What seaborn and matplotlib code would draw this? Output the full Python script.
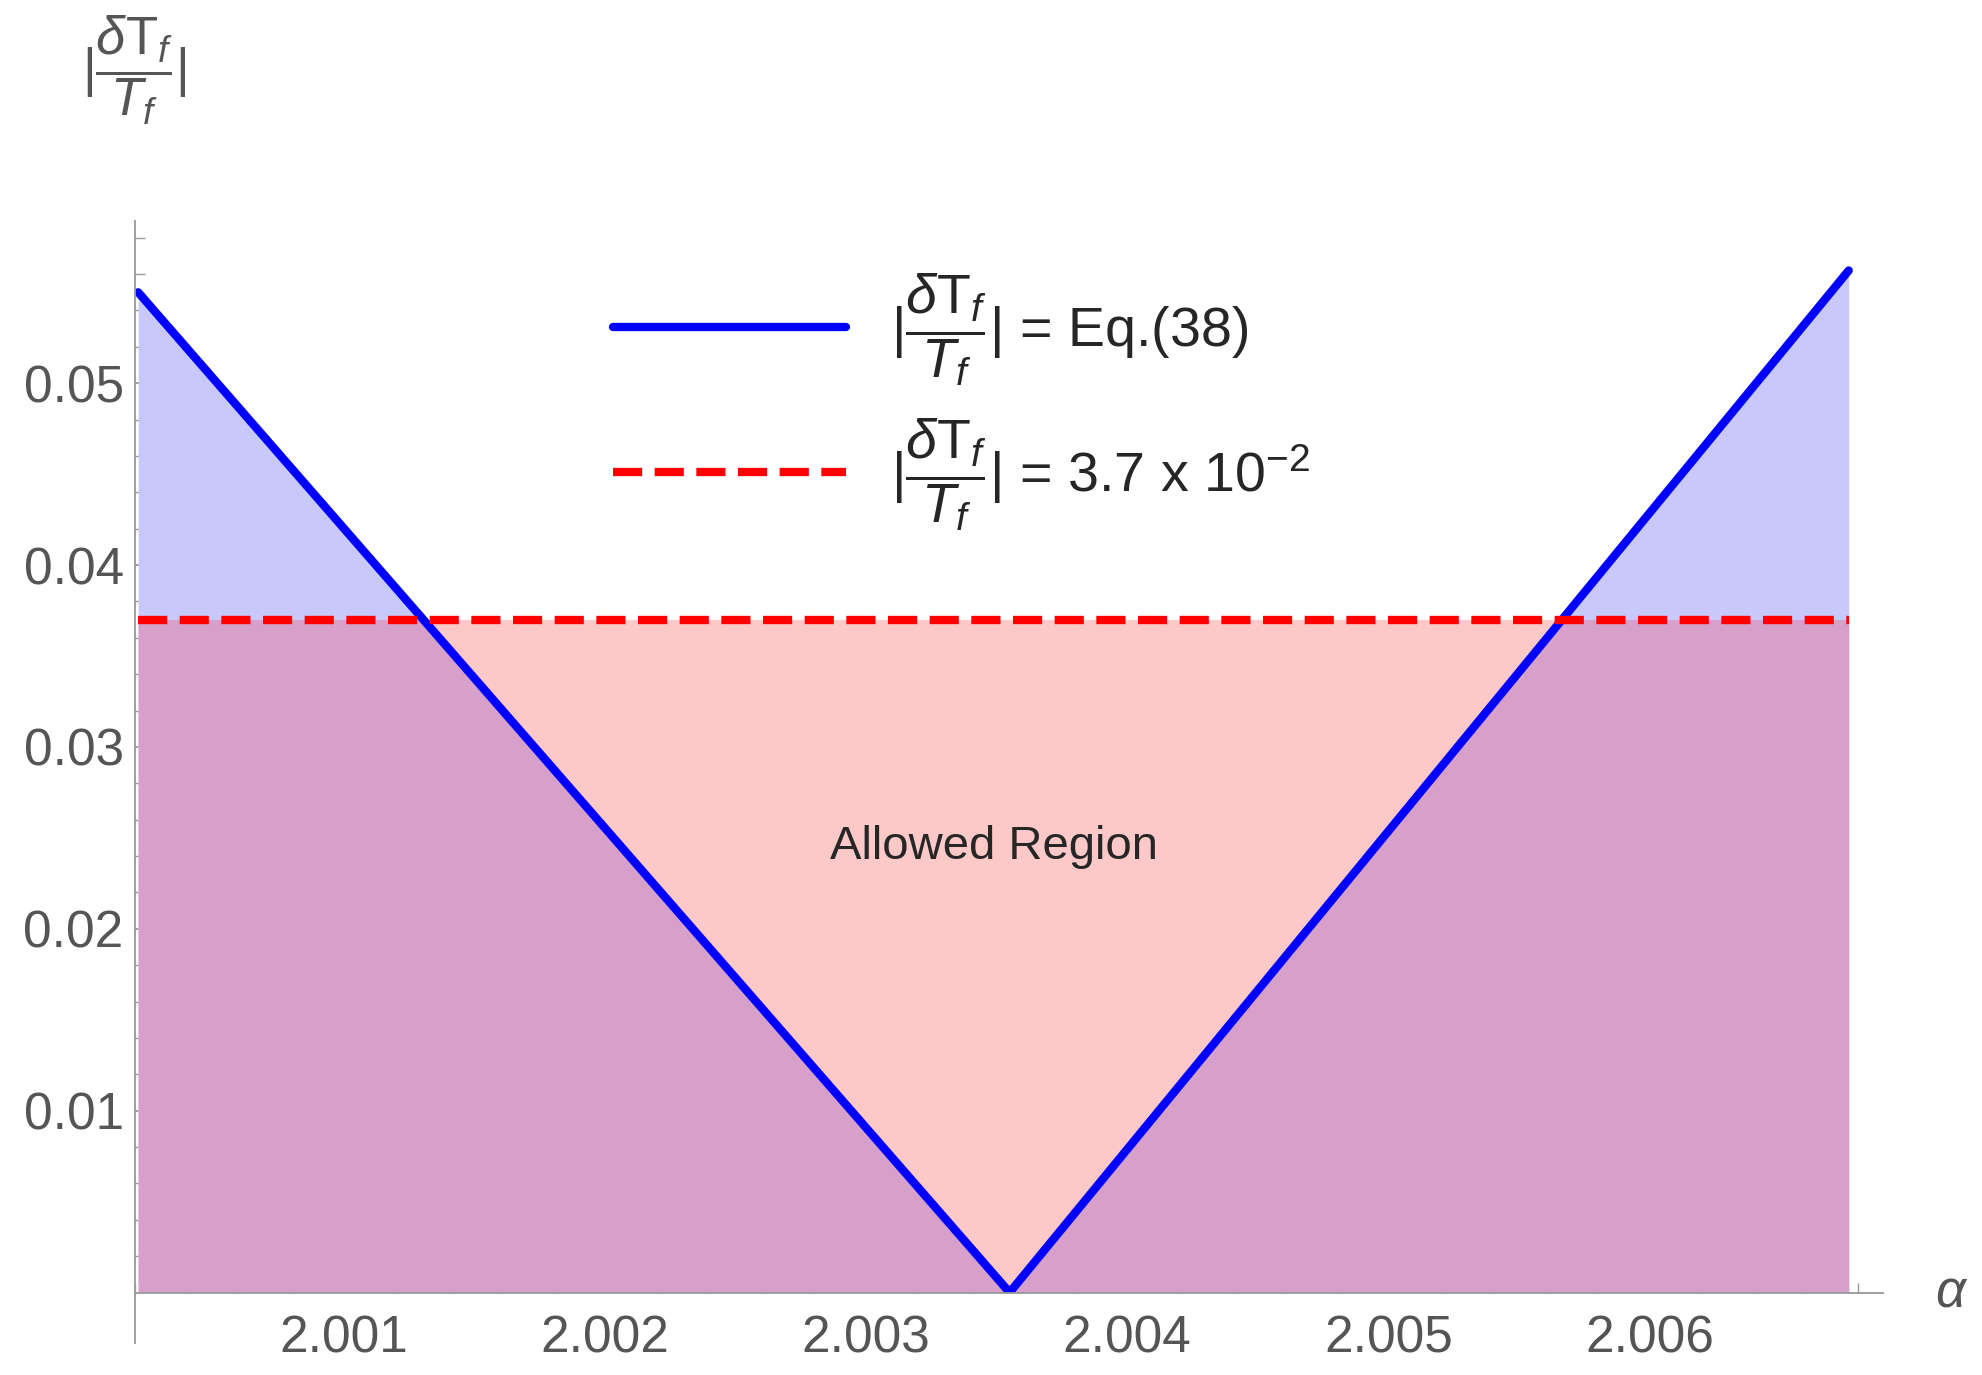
import numpy as np
import pandas as pd
import matplotlib
matplotlib.use("Agg")
import matplotlib.pyplot as plt
import seaborn as sns

sns.set_theme(style="white")
plt.rcParams['font.family'] = ['Liberation Sans', 'DejaVu Sans']
plt.rcParams['mathtext.fontset'] = 'custom'
plt.rcParams['mathtext.rm'] = 'Liberation Sans'
plt.rcParams['mathtext.it'] = 'Liberation Sans:italic'

# valores
alpha = [2.000213, 2.00355, 2.006763]
delta_t = [0.055, 0.0, 0.0562]
limite = 0.037
x_ticks = [2.001, 2.002, 2.003, 2.004, 2.005, 2.006]
y_ticks = [0.01, 0.02, 0.03, 0.04, 0.05]

df = pd.DataFrame({'alpha': alpha, 'dT': delta_t})

fig = plt.figure(figsize=(19.82, 13.75), dpi=100)
ax = fig.add_axes([0.068, 0.06, 0.882, 0.779])

# malha densa só para preencher as regiões
xs = np.linspace(alpha[0], alpha[-1], 2000)
ys = np.interp(xs, alpha, delta_t)
ax.fill_between(xs, 0, ys, color='#c8c8fa', lw=0)
ax.fill_between(xs, 0, limite, color='#fcc8c8', lw=0)
ax.fill_between(xs, 0, np.minimum(ys, limite), color='#d6a0cb', lw=0)

frac = r'$|\dfrac{\delta\mathrm{T}_f}{T_f}|$'
sns.lineplot(data=df, x='alpha', y='dT', ax=ax, color='#0000ff', lw=6,
             label=frac + ' = Eq.(38)')
ax.plot([alpha[0], alpha[-1]], [limite, limite], color='#ff0000', lw=6,
        ls=(0, (3.5, 1.5)), label=frac + r' = 3.7 x 10$^{-2}$')

ax.set_xlim(2.000213, 2.006894)
ax.set_ylim(0, 0.0589)
for s in ['top', 'right']:
    ax.spines[s].set_visible(False)
for s in ['left', 'bottom']:
    ax.spines[s].set_color('#999999')
    ax.spines[s].set_linewidth(1.3)
ax.spines['left'].set_bounds(-0.0028, 0.0589)
ax.set_xticks(x_ticks)
ax.set_xticklabels([f'{v:.3f}' for v in x_ticks])
ax.set_yticks(y_ticks)
ax.set_yticklabels([f'{v:.2f}' for v in y_ticks])
ax.set_xticks(np.arange(2.0002, 2.0069, 0.0002), minor=True)
ax.set_yticks(np.arange(0.002, 0.059, 0.002), minor=True)
ax.tick_params(which='both', direction='in', colors='#999999', labelcolor='#555555',
               labelsize=37, left=True, bottom=True)
ax.tick_params(which='major', length=14, width=1.3)
ax.tick_params(which='minor', length=7, width=1)
ax.tick_params(axis='x', pad=16)
ax.tick_params(axis='y', pad=8)
ax.set_xlabel('')
ax.set_ylabel('')

ax.text(1.03, 0.0, r'$\alpha$', transform=ax.transAxes, fontsize=38,
        ha='left', va='center', color='#555555')
fig.text(0.068, 0.99, frac, fontsize=38, ha='center', va='top', color='#555555')
ax.text(2.00349, 0.0245, 'Allowed Region', fontsize=34, ha='center', va='center')

ax.legend(loc='upper left', bbox_to_anchor=(0.245, 1.0), frameon=False,
          fontsize=40, handlelength=4.2, labelspacing=0.5, handletextpad=0.8)

fig.savefig('out.png', dpi=100)
